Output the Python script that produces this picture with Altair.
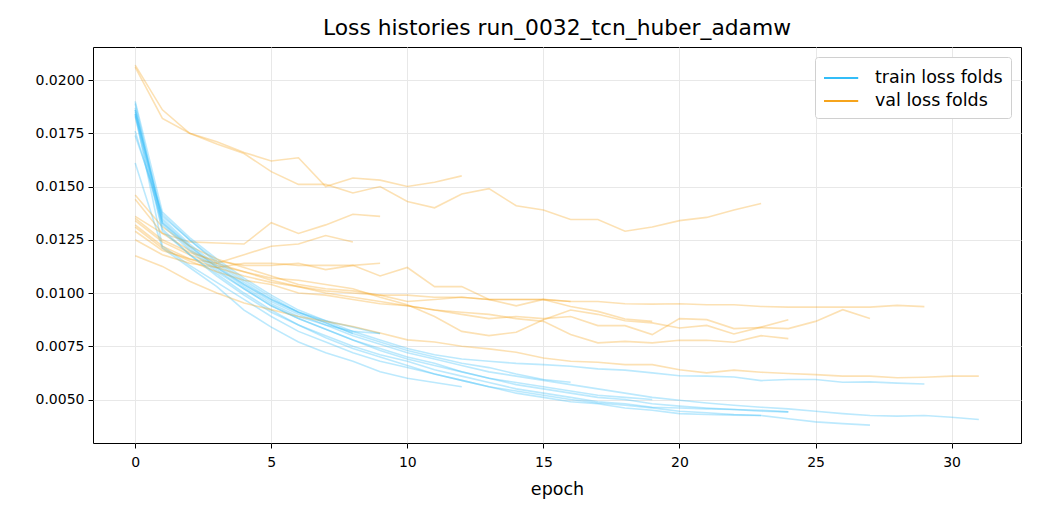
import altair as alt
import pandas as pd

TITLE = "Loss histories run_0032_tcn_huber_adamw"
LEGEND_TRAIN = "train loss folds"
LEGEND_VAL = "val loss folds"

# ---- per-fold loss histories (value per epoch, epoch starts at 0) ----
train_01 = [0.0161, 0.0121, 0.0112, 0.0103, 0.0092, 0.0084, 0.0077, 0.0072, 0.0068, 0.0063, 0.0060, 0.0058, 0.0056]
val_01 = [0.0207, 0.0186, 0.0175, 0.0171, 0.0166, 0.0162, 0.01635, 0.0150, 0.0154, 0.0153, 0.0150, 0.0152, 0.0155]

train_02 = [0.0184, 0.0122, 0.0113, 0.0105, 0.0097, 0.0089, 0.0082, 0.0077, 0.0072, 0.0068, 0.0065, 0.0062,
            0.0059, 0.0056, 0.0054, 0.0052, 0.0050, 0.00484, 0.00473, 0.00461, 0.00445, 0.00438, 0.0043, 0.00425]
val_02 = [0.0206, 0.0182, 0.0175, 0.0170, 0.01655, 0.0157, 0.0151, 0.0151, 0.0147, 0.0150, 0.0143, 0.0140,
          0.01465, 0.0149, 0.0141, 0.0139, 0.01345, 0.01345, 0.0129, 0.0131, 0.0134, 0.01355, 0.0139, 0.0142]

train_03 = [0.0186, 0.0136, 0.0125, 0.0114, 0.0105, 0.0097, 0.0091, 0.0087, 0.0084, 0.0081]
val_03 = [0.0136, 0.0128, 0.0124, 0.01235, 0.0123, 0.0133, 0.0128, 0.0132, 0.0137, 0.0136]

train_04 = [0.0176, 0.0133, 0.0122, 0.0112, 0.0104, 0.0097, 0.0091, 0.0086, 0.0081]
val_04 = [0.0129, 0.0120, 0.0116, 0.0114, 0.0118, 0.0122, 0.0123, 0.0127, 0.0124]

train_05 = [0.0187, 0.0134, 0.0122, 0.0112, 0.0103, 0.0095, 0.0089, 0.0085, 0.0082, 0.0081]
val_05 = [0.0125, 0.0118, 0.0114, 0.0112, 0.0114, 0.0114, 0.0113, 0.0113, 0.0113, 0.0114]

train_06 = [0.0190, 0.0138, 0.0126, 0.0116, 0.0107, 0.0099, 0.0092, 0.0087, 0.0082, 0.0078, 0.0074, 0.0071,
            0.0069, 0.0068, 0.0067, 0.00664, 0.00656, 0.00644, 0.00638, 0.00625, 0.00612, 0.0061, 0.00606,
            0.00589, 0.00594, 0.00594, 0.00581, 0.00583, 0.00577, 0.00573]
val_06 = [0.0146, 0.0131, 0.0122, 0.0116, 0.0112, 0.0108, 0.0104, 0.0102, 0.0101, 0.0099, 0.0099, 0.0098,
          0.0098, 0.0097, 0.0097, 0.0097, 0.0096, 0.0096, 0.0095, 0.00948, 0.0095, 0.00945, 0.00945,
          0.00937, 0.00934, 0.00934, 0.00934, 0.00934, 0.00942, 0.00936]

train_07 = [0.0185, 0.0130, 0.0118, 0.0108, 0.0099, 0.0091, 0.0085, 0.0079, 0.0074, 0.0070, 0.0066, 0.0062,
            0.0059, 0.0056, 0.0053, 0.0051, 0.0049, 0.0048, 0.0046, 0.0045, 0.00434, 0.0043, 0.00427,
            0.00425, 0.0041, 0.00395, 0.00387, 0.0038]
val_07 = [0.0144, 0.0128, 0.0120, 0.0114, 0.0110, 0.0106, 0.0103, 0.0100, 0.0098, 0.0096, 0.0094, 0.0092,
          0.0090, 0.0088, 0.0089, 0.0088, 0.0089, 0.00847, 0.00847, 0.00805, 0.0088, 0.00875, 0.00833,
          0.00838, 0.00833, 0.00867, 0.00922, 0.0088]

train_08 = [0.0186, 0.0132, 0.0120, 0.0110, 0.0102, 0.0094, 0.0088, 0.0083, 0.0078, 0.0074, 0.0070, 0.0067,
            0.0063, 0.0060, 0.0057, 0.0055, 0.0053, 0.0051, 0.0050, 0.0048, 0.00469, 0.0046, 0.00453,
            0.00445, 0.00442]
val_08 = [0.0134, 0.0124, 0.0118, 0.0113, 0.0110, 0.0107, 0.0106, 0.0104, 0.0102, 0.0098, 0.00945, 0.0089,
          0.0082, 0.0080, 0.00816, 0.00875, 0.0092, 0.0090, 0.0087, 0.0086, 0.00836, 0.00848, 0.00808,
          0.0084, 0.00875]

train_09 = [0.0183, 0.0129, 0.0118, 0.0109, 0.0100, 0.0092, 0.0085, 0.0080, 0.0075, 0.0071, 0.0068, 0.0064,
            0.0061, 0.0058, 0.0055, 0.0053, 0.0051, 0.0049, 0.0048, 0.00464, 0.0046, 0.00456, 0.00453,
            0.0045, 0.00442]
val_09 = [0.0131, 0.0121, 0.0115, 0.0110, 0.0106, 0.0104, 0.0100, 0.0099, 0.0097, 0.0095, 0.0094, 0.0092,
          0.0091, 0.0090, 0.0088, 0.00867, 0.00805, 0.00766, 0.00773, 0.00766, 0.00778, 0.00778, 0.00769,
          0.0080, 0.00786]

train_10 = [0.0184, 0.0135, 0.0123, 0.0113, 0.0104, 0.0096, 0.0090, 0.0085, 0.0080, 0.0076, 0.0072, 0.0069,
            0.0066, 0.0063, 0.0061, 0.0059, 0.0057, 0.0055, 0.0053, 0.0051, 0.00497, 0.00484, 0.00473,
            0.00464, 0.00456, 0.00445, 0.00434, 0.00425, 0.00422, 0.00425, 0.00417, 0.00406]
val_10 = [0.01175, 0.01125, 0.01055, 0.0100, 0.00953, 0.00922, 0.0089, 0.00867, 0.00843, 0.00812, 0.0078,
          0.0077, 0.0075, 0.00738, 0.00722, 0.00695, 0.0068, 0.00675, 0.00664, 0.00664, 0.0064, 0.00625,
          0.00638, 0.00628, 0.00622, 0.00617, 0.0061, 0.0061, 0.00602, 0.00605, 0.0061, 0.0061]

train_11 = [0.0174, 0.0137, 0.0125, 0.0115, 0.0106, 0.0098, 0.0091, 0.0086, 0.0081, 0.0077, 0.0073, 0.0070,
            0.0067, 0.0065, 0.0062, 0.00594, 0.00581]
val_11 = [0.0135, 0.0125, 0.0119, 0.0115, 0.0113, 0.0113, 0.0114, 0.0111, 0.0113, 0.0108, 0.0112, 0.0103,
          0.0103, 0.0097, 0.0094, 0.0097, 0.0096]

train_12 = [0.0189, 0.0133, 0.0121, 0.0111, 0.0102, 0.0094, 0.0088, 0.0083, 0.0078, 0.0073, 0.0069, 0.0066,
            0.0063, 0.0060, 0.0058, 0.0056, 0.0054, 0.0052, 0.0051, 0.0050]
val_12 = [0.0132, 0.0122, 0.0116, 0.0112, 0.0108, 0.0105, 0.0103, 0.0101, 0.0100, 0.0099, 0.0096, 0.0097,
          0.0098, 0.0097, 0.0097, 0.0097, 0.00937, 0.00914, 0.00878, 0.00867]

x_ticks = [0, 5, 10, 15, 20, 25, 30]
y_ticks = [0.0050, 0.0075, 0.0100, 0.0125, 0.0150, 0.0175, 0.0200]

folds = [
    (train_01, val_01), (train_02, val_02), (train_03, val_03), (train_04, val_04),
    (train_05, val_05), (train_06, val_06), (train_07, val_07), (train_08, val_08),
    (train_09, val_09), (train_10, val_10), (train_11, val_11), (train_12, val_12),
]

rows = []
order = 0
for k, (tr, va) in enumerate(folds):
    for name, series in ((LEGEND_TRAIN, tr), (LEGEND_VAL, va)):
        for ep, v in enumerate(series):
            rows.append({"fold": k, "kind": name, "series": f"{k}-{name}",
                         "epoch": ep, "loss": v, "ord": order})
        order += 1
df = pd.DataFrame(rows)

BLUE = "#33bdf8"
ORANGE = "#f6a41c"
FONT = "DejaVu Sans"

chart = alt.Chart(df).mark_line(strokeWidth=1.6, strokeOpacity=0.33, clip=True).encode(
    x=alt.X("epoch:Q",
            scale=alt.Scale(domain=[-1.55, 32.55], nice=False, zero=False),
            axis=alt.Axis(values=x_ticks, title="epoch", format="d", labelPadding=7,
                          titlePadding=11)),
    y=alt.Y("loss:Q",
            scale=alt.Scale(domain=[0.00296, 0.02155], nice=False, zero=False),
            axis=alt.Axis(values=y_ticks, title=None, format=".4f", labelPadding=4)),
    color=alt.Color("kind:N",
                    scale=alt.Scale(domain=[LEGEND_TRAIN, LEGEND_VAL], range=[BLUE, ORANGE]),
                    legend=alt.Legend(title=None, orient="top-right", offset=10,
                                      symbolType="M-1,0H1.85", symbolSize=576,
                                      symbolStrokeWidth=2, symbolOpacity=1,
                                      symbolFillColor="transparent",
                                      labelFontSize=17.5, labelFont=FONT, labelColor="black",
                                      fillColor="white", strokeColor="#d0d0d0",
                                      cornerRadius=3, padding=8, rowPadding=1,
                                      labelOffset=26)),
    detail="series:N",
    order="ord:Q",
).properties(
    width=928, height=396,
    title=alt.TitleParams(TITLE, fontSize=21.8, fontWeight="normal", font=FONT,
                          color="black", anchor="middle", offset=7),
    autosize=alt.AutoSizeParams(type="none"),
    padding={"left": 85, "top": 39, "right": 11, "bottom": 69},
).configure_view(
    stroke="black", strokeWidth=1
).configure_axis(
    domain=False, grid=True, gridColor="#e8e8e8", gridWidth=1,
    ticks=True, tickColor="black", tickSize=5, tickWidth=1,
    labelFont=FONT, labelFontSize=14, labelColor="black",
    titleFont=FONT, titleFontSize=17.5, titleFontWeight="normal", titleColor="black",
)

chart.save("out.html", embed_options={"renderer": "svg", "actions": False})
